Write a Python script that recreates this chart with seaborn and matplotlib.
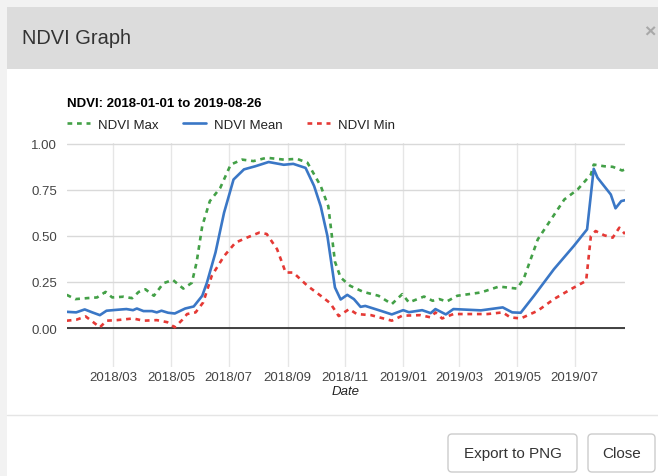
import matplotlib
matplotlib.use("Agg")
import matplotlib.pyplot as plt
import matplotlib.dates as mdates
from matplotlib.patches import Rectangle, FancyBboxPatch
import pandas as pd
import seaborn as sns

# ---------------- data ----------------
chart_title = "NDVI: 2018-01-01 to 2019-08-26"
series_labels = ["NDVI Max", "NDVI Mean", "NDVI Min"]

max_dates = ["2018-01-11", "2018-01-20", "2018-02-01", "2018-02-12", "2018-02-21", "2018-02-28",
             "2018-03-12", "2018-03-21", "2018-03-28", "2018-04-04", "2018-04-13", "2018-04-23",
             "2018-05-03", "2018-05-14", "2018-05-23", "2018-05-28", "2018-06-03", "2018-06-11",
             "2018-06-22", "2018-07-03", "2018-07-15", "2018-07-27", "2018-08-10", "2018-08-28",
             "2018-09-11", "2018-09-22", "2018-10-06", "2018-10-14", "2018-10-21", "2018-10-27",
             "2018-11-06", "2018-11-20", "2018-12-06", "2018-12-20", "2018-12-31", "2019-01-07",
             "2019-01-23", "2019-02-01", "2019-02-08", "2019-02-16", "2019-02-27", "2019-03-24",
             "2019-04-12", "2019-05-01", "2019-05-08", "2019-05-23", "2019-06-06", "2019-06-20",
             "2019-07-04", "2019-07-18", "2019-07-21", "2019-08-01", "2019-08-10", "2019-08-20",
             "2019-08-23"]
max_values = [0.180, 0.157, 0.162, 0.166, 0.196, 0.166,
              0.170, 0.162, 0.196, 0.210, 0.175, 0.243,
              0.261, 0.214, 0.245, 0.355, 0.553, 0.688,
              0.760, 0.886, 0.913, 0.905, 0.923, 0.913,
              0.917, 0.896, 0.770, 0.660, 0.360, 0.274,
              0.229, 0.196, 0.175, 0.130, 0.184, 0.139,
              0.171, 0.148, 0.157, 0.144, 0.175, 0.193,
              0.225, 0.214, 0.265, 0.481, 0.589, 0.697,
              0.751, 0.832, 0.886, 0.877, 0.874, 0.854,
              0.860]

mean_dates = ["2018-01-11", "2018-01-21", "2018-01-30", "2018-02-07", "2018-02-15", "2018-02-22",
              "2018-03-05", "2018-03-15", "2018-03-22", "2018-03-26", "2018-04-02", "2018-04-11",
              "2018-04-16", "2018-04-21", "2018-04-28", "2018-05-05", "2018-05-16", "2018-05-25",
              "2018-06-03", "2018-06-08", "2018-06-17", "2018-06-26", "2018-07-06", "2018-07-17",
              "2018-07-29", "2018-08-12", "2018-08-28", "2018-09-07", "2018-09-20", "2018-09-29",
              "2018-10-06", "2018-10-13", "2018-10-21", "2018-10-27", "2018-11-03", "2018-11-10",
              "2018-11-17", "2018-11-22", "2018-12-08", "2018-12-20", "2019-01-01", "2019-01-07",
              "2019-01-21", "2019-01-30", "2019-02-04", "2019-02-15", "2019-02-23", "2019-03-24",
              "2019-04-16", "2019-04-26", "2019-05-05", "2019-05-19", "2019-06-09", "2019-06-30",
              "2019-07-14", "2019-07-21", "2019-07-25", "2019-08-08", "2019-08-13", "2019-08-19",
              "2019-08-23"]
mean_values = [0.088, 0.085, 0.101, 0.085, 0.070, 0.094,
               0.099, 0.103, 0.097, 0.106, 0.092, 0.092,
               0.085, 0.094, 0.083, 0.079, 0.106, 0.117,
               0.175, 0.247, 0.410, 0.625, 0.805, 0.860,
               0.877, 0.900, 0.885, 0.890, 0.868, 0.770,
               0.660, 0.500, 0.220, 0.155, 0.180, 0.157,
               0.115, 0.120, 0.094, 0.074, 0.097, 0.086,
               0.097, 0.081, 0.103, 0.074, 0.103, 0.096,
               0.112, 0.085, 0.083, 0.175, 0.319, 0.445,
               0.535, 0.863, 0.815, 0.724, 0.649, 0.688,
               0.693]

min_dates = ["2018-01-11", "2018-01-21", "2018-01-31", "2018-02-08", "2018-02-15", "2018-02-22",
             "2018-03-05", "2018-03-22", "2018-04-02", "2018-04-16", "2018-04-27", "2018-05-05",
             "2018-05-13", "2018-05-18", "2018-05-27", "2018-06-04", "2018-06-13", "2018-06-26",
             "2018-07-08", "2018-07-20", "2018-08-02", "2018-08-10", "2018-08-21", "2018-08-30",
             "2018-09-07", "2018-09-22", "2018-10-06", "2018-10-16", "2018-10-25", "2018-11-05",
             "2018-11-13", "2018-11-28", "2018-12-20", "2018-12-31", "2019-01-19", "2019-01-30",
             "2019-02-04", "2019-02-11", "2019-02-23", "2019-03-31", "2019-04-16", "2019-04-24",
             "2019-05-05", "2019-05-23", "2019-06-09", "2019-06-27", "2019-07-13", "2019-07-18",
             "2019-07-23", "2019-08-01", "2019-08-10", "2019-08-17", "2019-08-23"]
min_values = [0.040, 0.045, 0.063, 0.032, 0.004, 0.040,
              0.043, 0.052, 0.040, 0.043, 0.032, 0.004,
              0.045, 0.076, 0.085, 0.139, 0.283, 0.390,
              0.463, 0.490, 0.517, 0.510, 0.427, 0.301,
              0.301, 0.229, 0.175, 0.135, 0.065, 0.103,
              0.076, 0.070, 0.040, 0.067, 0.070, 0.058,
              0.085, 0.052, 0.076, 0.076, 0.085, 0.058,
              0.052, 0.094, 0.157, 0.211, 0.256, 0.499,
              0.526, 0.503, 0.490, 0.544, 0.510]

y_ticks = [0.0, 0.25, 0.5, 0.75, 1.0]

# ---------------- styling ----------------
sns.set_style("white")
plt.rcParams["font.family"] = ["Liberation Sans", "DejaVu Sans"]

W, H = 658, 477
fig = plt.figure(figsize=(W / 100, H / 100), dpi=100)
fig.patch.set_facecolor("white")

# overlay axes in pixel coordinates for the dialog chrome
ov = fig.add_axes([0, 0, 1, 1], zorder=0)
ov.set_xlim(0, W)
ov.set_ylim(H, 0)
ov.axis("off")
ov.add_patch(Rectangle((0, 0), W, H, facecolor="#f2f2f2", edgecolor="none"))
ov.add_patch(Rectangle((7, 8), W - 7, H - 8, facecolor="white", edgecolor="none"))
ov.add_patch(Rectangle((7, 8), W - 7, 62, facecolor="#dcdcdc", edgecolor="none"))
ov.text(22, 38, "NDVI Graph", fontsize=14.4, color="#333333", va="center", ha="left")
ov.text(650, 33, "\u00d7", fontsize=14, color="#a8a8a8", va="center", ha="center", fontweight="bold")
ov.plot([7, W], [416, 416], color="#e5e5e5", lw=1)
for (bx, bw, txt) in [(448, 129, "Export to PNG"), (588, 67, "Close")]:
    ov.add_patch(FancyBboxPatch((bx, 435), bw, 38, boxstyle="round,pad=0,rounding_size=4",
                                facecolor="white", edgecolor="#cccccc", lw=1))
    ov.text(bx + bw / 2, 454, txt, fontsize=11, color="#333333", ha="center", va="center")

ov.text(66.7, 104, chart_title, fontsize=9.5, fontweight="bold", color="#000000",
        ha="left", va="center")

# main chart axes
left, right, top, bottom = 66.7, 625, 144, 368
ax = fig.add_axes([left / W, 1 - bottom / H, (right - left) / W, (bottom - top) / H], zorder=2)
ax.patch.set_alpha(0)

df_max = pd.DataFrame({"Date": pd.to_datetime(max_dates), "NDVI": max_values})
df_mean = pd.DataFrame({"Date": pd.to_datetime(mean_dates), "NDVI": mean_values})
df_min = pd.DataFrame({"Date": pd.to_datetime(min_dates), "NDVI": min_values})

green, blue, red = "#43a047", "#3a77c6", "#e53935"
dash = (0, (1.8, 1.8))
sns.lineplot(data=df_max, x="Date", y="NDVI", ax=ax, color=green, lw=1.9,
             linestyle=dash, label=series_labels[0], zorder=4)
sns.lineplot(data=df_mean, x="Date", y="NDVI", ax=ax, color=blue, lw=1.9,
             label=series_labels[1], zorder=5)
sns.lineplot(data=df_min, x="Date", y="NDVI", ax=ax, color=red, lw=1.9,
             linestyle=dash, label=series_labels[2], zorder=4)

ax.set_ylim(-0.211, 1.003)
ax.set_xlim(df_mean["Date"].min(), df_mean["Date"].max())
ax.set_yticks(y_ticks)
ax.set_yticklabels([f"{v:.2f}" for v in y_ticks])
ax.xaxis.set_major_locator(mdates.MonthLocator(bymonth=[1, 3, 5, 7, 9, 11]))
ax.xaxis.set_major_formatter(mdates.DateFormatter("%Y/%m"))

ax.grid(axis="y", color="#d9d9d9", lw=1)
ax.grid(axis="x", color="#e6e6e6", lw=1)
ax.axhline(0, color="#333333", lw=1.3, zorder=3)
for s in ax.spines.values():
    s.set_visible(False)
ax.tick_params(axis="both", length=0, labelsize=9.5, labelcolor="#444444")
ax.tick_params(axis="x", pad=3)
ax.tick_params(axis="y", pad=7)
ax.set_ylabel("")
ax.set_xlabel("Date", fontsize=9.5, fontstyle="italic", color="#222222", labelpad=1)

handles, labels = ax.get_legend_handles_labels()
leg = ax.legend(handles, labels, loc="center left", ncol=3, frameon=False,
                bbox_to_anchor=(left / W, 1 - 126 / H), bbox_transform=fig.transFigure,
                borderpad=0, borderaxespad=0, handlelength=1.75, handletextpad=0.6,
                columnspacing=1.85, fontsize=9.5)
for t in leg.get_texts():
    t.set_color("#222222")

fig.savefig("out.png", dpi=100)
